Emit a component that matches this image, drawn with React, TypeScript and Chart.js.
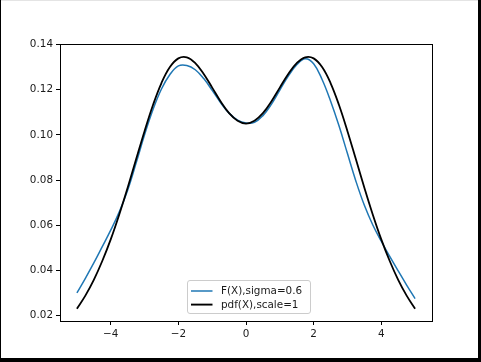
import React, { useEffect, useRef } from 'react';
import { Chart, registerables } from 'chart.js';

Chart.register(...registerables);

const xValues = [
  -5, -4.75, -4.5, -4.25, -4, -3.75, -3.5, -3.25, -3, -2.75, -2.5, -2.25, -2, -1.75, -1.5, -1.25, -1, -0.75, -0.5, -0.25,
  0, 0.25, 0.5, 0.75, 1, 1.25, 1.5, 1.75, 2, 2.25, 2.5, 2.75, 3, 3.25, 3.5, 3.75, 4, 4.25, 4.5, 4.75, 5,
];

const fValues = [
  0.03, 0.0365, 0.0433, 0.0505, 0.0578, 0.0658, 0.0755, 0.0875, 0.1, 0.1112, 0.1203, 0.1267, 0.1305, 0.1307, 0.1288,
  0.1249, 0.1197, 0.1142, 0.1096, 0.1065, 0.1052, 0.1055, 0.1085, 0.1135, 0.1198, 0.126, 0.131, 0.1337, 0.1315, 0.1245,
  0.115, 0.104, 0.0917, 0.0795, 0.0688, 0.0601, 0.0529, 0.0462, 0.0398, 0.0335, 0.0275,
];

const pdfValues = [
  0.02305, 0.02882, 0.0358, 0.04415, 0.05373, 0.06465, 0.0766, 0.08915, 0.10163, 0.1132, 0.12293, 0.13, 0.13383,
  0.13429, 0.13173, 0.12691, 0.1209, 0.1148, 0.10963, 0.10625, 0.10499, 0.10625, 0.10963, 0.1148, 0.1209, 0.12691,
  0.13173, 0.13429, 0.13383, 0.13, 0.12293, 0.1132, 0.10163, 0.08915, 0.0766, 0.06465, 0.05373, 0.04415, 0.0358,
  0.02882, 0.02305,
];

const seriesLabels = ['F(X),sigma=0.6', 'pdf(X),scale=1'];
const seriesColors = ['#1f77b4', '#000000'];
const xTicks = [-4, -2, 0, 2, 4];
const yTicks = [0.02, 0.04, 0.06, 0.08, 0.1, 0.12, 0.14];

const FONT = '"DejaVu Sans", sans-serif';

const framePlugin = {
  id: 'frameAndLegend',
  afterDatasetsDraw(chart: any) {
    const { ctx, chartArea } = chart;
    const { left, right, top, bottom } = chartArea;
    ctx.save();
    // spines
    ctx.strokeStyle = '#000';
    ctx.lineWidth = 1;
    ctx.strokeRect(Math.round(left) + 0.5, Math.round(top) + 0.5, Math.round(right - left), Math.round(bottom - top));

    // legend (lower center)
    const boxW = 123;
    const boxH = 33;
    const cx = (left + right) / 2 + 2;
    const bx = Math.round(cx - boxW / 2) + 0.5;
    const by = Math.round(bottom - 8 - boxH) + 0.5;
    const r = 2.5;
    ctx.beginPath();
    ctx.moveTo(bx + r, by);
    ctx.lineTo(bx + boxW - r, by);
    ctx.quadraticCurveTo(bx + boxW, by, bx + boxW, by + r);
    ctx.lineTo(bx + boxW, by + boxH - r);
    ctx.quadraticCurveTo(bx + boxW, by + boxH, bx + boxW - r, by + boxH);
    ctx.lineTo(bx + r, by + boxH);
    ctx.quadraticCurveTo(bx, by + boxH, bx, by + boxH - r);
    ctx.lineTo(bx, by + r);
    ctx.quadraticCurveTo(bx, by, bx + r, by);
    ctx.closePath();
    ctx.fillStyle = 'rgba(255,255,255,0.8)';
    ctx.fill();
    ctx.strokeStyle = '#cccccc';
    ctx.lineWidth = 1;
    ctx.stroke();

    const widths = [1.5, 1.9];
    seriesLabels.forEach((label, i) => {
      const ly = by + 10.5 + i * 13.6;
      ctx.beginPath();
      ctx.strokeStyle = seriesColors[i];
      ctx.lineWidth = widths[i];
      ctx.moveTo(bx + 3.5, ly);
      ctx.lineTo(bx + 25, ly);
      ctx.stroke();
      ctx.fillStyle = '#1a1a1a';
      ctx.font = `10.4px ${FONT}`;
      ctx.textBaseline = 'middle';
      ctx.textAlign = 'left';
      ctx.fillText(label, bx + 33.5, ly + 0.5);
    });
    ctx.restore();
  },
};

export default function App() {
  const canvasRef = useRef<HTMLCanvasElement | null>(null);

  useEffect(() => {
    document.body.style.margin = '0';
    const canvas = canvasRef.current;
    if (!canvas) return;
    const chart = new Chart(canvas, {
      type: 'line',
      data: {
        datasets: [
          {
            label: seriesLabels[1],
            data: xValues.map((x, i) => ({ x, y: pdfValues[i] })),
            borderColor: seriesColors[1],
            borderWidth: 1.8,
            pointRadius: 0,
            fill: false,
            tension: 0.4,
          },
          {
            label: seriesLabels[0],
            data: xValues.map((x, i) => ({ x, y: fValues[i] })),
            borderColor: seriesColors[0],
            borderWidth: 1.5,
            pointRadius: 0,
            fill: false,
            tension: 0.4,
          },
        ],
      },
      options: {
        animation: false,
        responsive: false,
        devicePixelRatio: 1,
        layout: { padding: { left: 0, right: 49, top: 44, bottom: 0 } },
        plugins: { legend: { display: false }, tooltip: { enabled: false } },
        scales: {
          x: {
            type: 'linear',
            min: -5.5,
            max: 5.5,
            afterBuildTicks: (s: any) => {
              s.ticks = xTicks.map((v) => ({ value: v }));
            },
            afterFit: (s: any) => {
              s.height = 41;
            },
            border: { display: false },
            grid: { drawOnChartArea: false, drawTicks: true, tickLength: 4, color: '#000', lineWidth: 1 },
            ticks: {
              color: '#1a1a1a',
              padding: 3,
              maxRotation: 0,
              autoSkip: false,
              font: { family: FONT, size: 10.4 },
              callback: (v: any) => (Number(v) < 0 ? '\u2212' + Math.abs(Number(v)) : String(v)),
            },
          },
          y: {
            type: 'linear',
            min: 0.0176,
            max: 0.1402,
            afterBuildTicks: (s: any) => {
              s.ticks = yTicks.map((v) => ({ value: v }));
            },
            afterFit: (s: any) => {
              s.width = 60;
            },
            border: { display: false },
            grid: { drawOnChartArea: false, drawTicks: true, tickLength: 4, color: '#000', lineWidth: 1 },
            ticks: {
              color: '#1a1a1a',
              padding: 3,
              autoSkip: false,
              font: { family: FONT, size: 10.4 },
              callback: (v: any) => Number(v).toFixed(2),
            },
          },
        },
      },
      plugins: [framePlugin],
    });
    return () => chart.destroy();
  }, []);

  return (
    <div style={{ position: 'relative', width: 481, height: 362, background: '#fff', overflow: 'hidden' }}>
      <canvas ref={canvasRef} width={481} height={362} style={{ position: 'absolute', left: 0, top: 0 }} />
      <div style={{ position: 'absolute', left: 0, top: 0, width: 481, height: 1, background: '#e4e4e4' }} />
      <div style={{ position: 'absolute', left: 0, top: 0, width: 1, height: 362, background: '#000' }} />
      <div style={{ position: 'absolute', left: 478, top: 0, width: 3, height: 362, background: '#000' }} />
      <div style={{ position: 'absolute', left: 0, top: 358, width: 481, height: 4, background: '#000' }} />
    </div>
  );
}
